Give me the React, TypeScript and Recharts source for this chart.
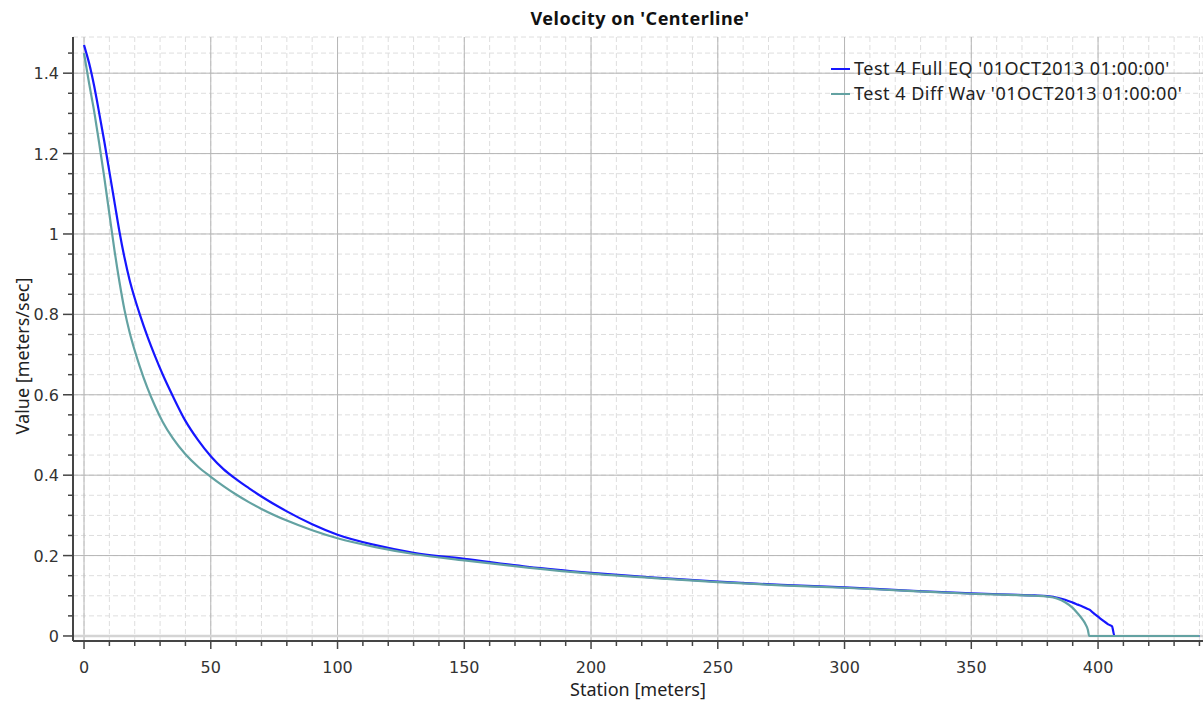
import { LineChart, Line, XAxis, YAxis, CartesianGrid, Legend } from "recharts";

// station [m]
const stations = [
  0, 1, 2, 3, 4, 5, 6, 8, 10, 12, 14, 16, 18, 20, 22, 25, 28, 31, 35, 40, 45, 50, 55, 60, 65, 70, 80, 90, 100,
  115, 130, 150, 175, 200, 225, 250, 275, 300, 325, 350, 365, 375, 380, 384, 387, 390, 392, 394, 395, 396,
  396.5, 398, 400, 402, 404, 405.5, 406.5, 420, 440,
];

// velocity [m/s]
const fullEq = [
  1.47, 1.448, 1.425, 1.398, 1.368, 1.335, 1.3, 1.23, 1.155, 1.08, 1.005, 0.94, 0.885, 0.84, 0.8, 0.745, 0.696,
  0.651, 0.597, 0.535, 0.487, 0.447, 0.415, 0.39, 0.368, 0.347, 0.31, 0.278, 0.252, 0.226, 0.207, 0.192, 0.172,
  0.157, 0.145, 0.135, 0.127, 0.121, 0.113, 0.106, 0.103, 0.101, 0.099, 0.095, 0.09, 0.083, 0.078, 0.073, 0.07,
  0.067, 0.066, 0.058, 0.048, 0.038, 0.029, 0.024, 0, 0, 0,
];

const diffWav = [
  1.45, 1.412, 1.375, 1.34, 1.305, 1.265, 1.225, 1.14, 1.05, 0.96, 0.88, 0.81, 0.755, 0.71, 0.67, 0.617, 0.572,
  0.533, 0.492, 0.452, 0.421, 0.396, 0.373, 0.352, 0.333, 0.316, 0.287, 0.263, 0.243, 0.221, 0.204, 0.188, 0.17,
  0.155, 0.144, 0.134, 0.126, 0.12, 0.112, 0.105, 0.102, 0.1, 0.098, 0.093, 0.084, 0.07, 0.056, 0.04, 0.03, 0.015,
  0, 0, 0, 0, 0, 0, 0, 0, 0,
];

const xMajorTicks = [0, 50, 100, 150, 200, 250, 300, 350, 400];
const xAllTicks = [
  0, 10, 20, 30, 40, 50, 60, 70, 80, 90, 100, 110, 120, 130, 140, 150, 160, 170, 180, 190, 200, 210, 220, 230,
  240, 250, 260, 270, 280, 290, 300, 310, 320, 330, 340, 350, 360, 370, 380, 390, 400, 410, 420, 430, 440,
];
const yMajorTicks = [0, 0.2, 0.4, 0.6, 0.8, 1, 1.2, 1.4];
const yAllTicks = [
  0, 0.05, 0.1, 0.15, 0.2, 0.25, 0.3, 0.35, 0.4, 0.45, 0.5, 0.55, 0.6, 0.65, 0.7, 0.75, 0.8, 0.85, 0.9, 0.95, 1,
  1.05, 1.1, 1.15, 1.2, 1.25, 1.3, 1.35, 1.4, 1.45,
];

const X_DOMAIN = [-4.35, 441.4];
const Y_DOMAIN = [-0.0125, 1.49];

const BLUE = "#1616ff";
const TEAL = "#63a2a2";
const AXIS = "#454545";
const TICK_FONT = "'DejaVu Sans', sans-serif";
const LABEL_FONT = "'Noto Sans', sans-serif";

const series = [
  { key: "fullEq", name: "Test 4 Full EQ '01OCT2013 01:00:00'", color: BLUE },
  { key: "diffWav", name: "Test 4 Diff Wav '01OCT2013 01:00:00'", color: TEAL },
];

const data = stations.map((station, i) => ({ station, fullEq: fullEq[i], diffWav: diffWav[i] }));

const isMajor = (list: number[], v: number) => list.some((m) => Math.abs(m - v) < 1e-6);

function XTick({ x, y, payload }: any) {
  const major = isMajor(xMajorTicks, payload.value);
  return (
    <g>
      <line x1={x} x2={x} y1={y} y2={y + (major ? 8 : 5)} stroke={AXIS} strokeWidth={1.5} />
      {major && (
        <text x={x} y={y + 32} textAnchor="middle" fontFamily={TICK_FONT} fontSize={16} fill="#333">
          {payload.value}
        </text>
      )}
    </g>
  );
}

function YTick({ x, y, payload }: any) {
  const major = isMajor(yMajorTicks, payload.value);
  return (
    <g>
      <line x1={x} x2={x - (major ? 10 : 5)} y1={y} y2={y} stroke={AXIS} strokeWidth={1.5} />
      {major && (
        <text x={x - 14} y={y + 6} textAnchor="end" fontFamily={TICK_FONT} fontSize={16} fill="#333">
          {String(Number(payload.value.toFixed(2)))}
        </text>
      )}
    </g>
  );
}

function LegendBox() {
  return (
    <div style={{ fontFamily: LABEL_FONT, fontSize: 18, color: "#222" }}>
      {series.map((s) => (
        <div key={s.key} style={{ display: "flex", alignItems: "center", height: 25 }}>
          <span style={{ width: 19, height: 2, background: s.color, marginRight: 4, display: "inline-block" }} />
          <span style={{ whiteSpace: "nowrap", letterSpacing: 0.5, lineHeight: "25px" }}>{s.name}</span>
        </div>
      ))}
    </div>
  );
}

export default function App() {
  return (
    <div style={{ position: "absolute", left: 0, top: 0, width: 1203, height: 702, background: "#fff" }}>
      <div
        style={{
          position: "absolute",
          top: 6,
          left: 0,
          width: 1280,
          textAlign: "center",
          fontFamily: LABEL_FONT,
          fontWeight: 700,
          fontSize: 18,
          letterSpacing: 0.5,
          color: "#111",
          lineHeight: "24px",
        }}
      >
        Velocity on 'Centerline'
      </div>
      <LineChart width={1203} height={702} data={data} margin={{ top: 37, right: 0, bottom: 0, left: 0 }}>
        <XAxis
          dataKey="station"
          type="number"
          domain={X_DOMAIN}
          allowDataOverflow
          ticks={xAllTicks}
          interval={0}
          height={61}
          tickSize={0}
          tickMargin={0}
          tickLine={false}
          tick={<XTick />}
          axisLine={{ stroke: AXIS, strokeWidth: 2 }}
          label={{
            content: ({ viewBox }: any) => (
              <text
                x={viewBox.x + viewBox.width / 2}
                y={viewBox.y + 55}
                textAnchor="middle"
                fontFamily={LABEL_FONT}
                fontSize={18}
                fill="#222"
              >
                Station [meters]
              </text>
            ),
          }}
        />
        <XAxis
          xAxisId="top"
          orientation="top"
          dataKey="station"
          type="number"
          domain={X_DOMAIN}
          allowDataOverflow
          height={0}
          tick={false}
          tickLine={false}
          axisLine={{ stroke: AXIS, strokeWidth: 2 }}
        />
        <YAxis
          type="number"
          domain={Y_DOMAIN}
          allowDataOverflow
          ticks={yAllTicks}
          interval={0}
          width={73}
          tickSize={0}
          tickMargin={0}
          tickLine={false}
          tick={<YTick />}
          axisLine={{ stroke: AXIS, strokeWidth: 2 }}
          label={{
            content: ({ viewBox }: any) => {
              const cx = viewBox.x + 22;
              const cy = viewBox.y + viewBox.height / 2 + 17;
              return (
                <text
                  x={cx}
                  y={cy}
                  transform={`rotate(-90 ${cx} ${cy})`}
                  textAnchor="middle"
                  dominantBaseline="central"
                  fontFamily={LABEL_FONT}
                  fontSize={18}
                  fill="#222"
                >
                  Value [meters/sec]
                </text>
              );
            },
          }}
        />
        <CartesianGrid stroke="#dedede" strokeDasharray="5 3" />
        <CartesianGrid verticalValues={xMajorTicks} horizontalValues={yMajorTicks.slice(1)} stroke="#b6b6b6" />
        <CartesianGrid vertical={false} horizontalValues={[0]} stroke="#d4d4d4" strokeWidth={2.5} />
        <Legend
          layout="vertical"
          align="center"
          verticalAlign="middle"
          content={<LegendBox />}
          wrapperStyle={{ top: 56, left: 831, width: "auto" }}
        />
        {series.map((s) => (
          <Line
            key={s.key}
            dataKey={s.key}
            name={s.name}
            type="monotone"
            stroke={s.color}
            strokeWidth={2.2}
            dot={false}
            isAnimationActive={false}
          />
        ))}
      </LineChart>
    </div>
  );
}
